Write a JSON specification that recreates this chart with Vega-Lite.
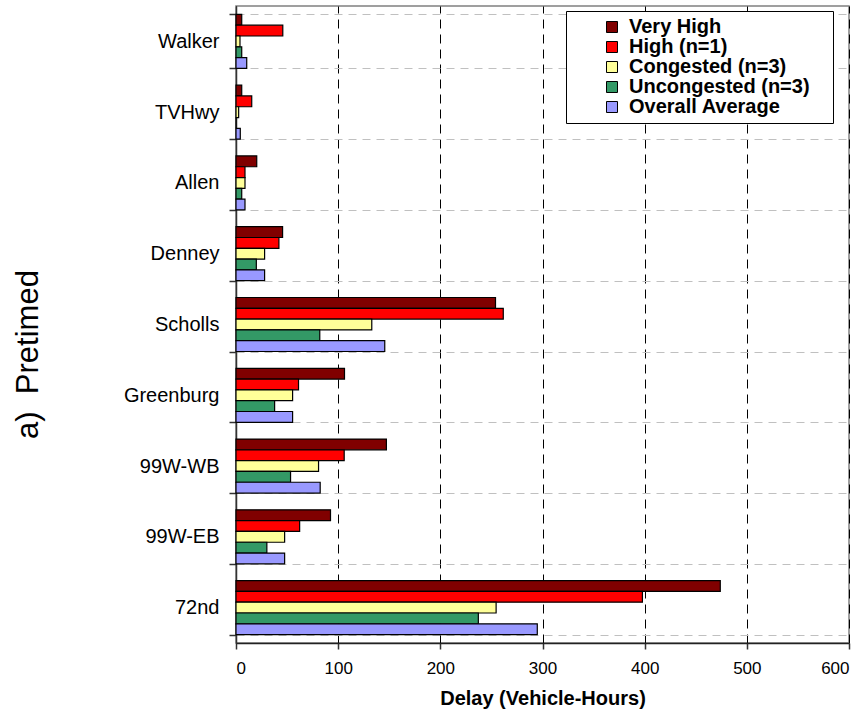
{
  "$schema": "https://vega.github.io/schema/vega-lite/v6.json",
  "width": 613,
  "height": 637,
  "autosize": {"type": "none"},
  "padding": {"left": 236, "top": 6, "right": 17, "bottom": 74},
  "background": "white",
  "config": {
    "font": "Liberation Sans",
    "view": {"stroke": "#808080", "strokeWidth": 1.5}
  },
  "data": {
    "values": [
      {"site": "Walker", "series": "Very High", "delay": 5.6},
      {"site": "Walker", "series": "High (n=1)", "delay": 45.8},
      {"site": "Walker", "series": "Congested (n=3)", "delay": 3.9},
      {"site": "Walker", "series": "Uncongested (n=3)", "delay": 5.6},
      {"site": "Walker", "series": "Overall Average", "delay": 10.5},
      {"site": "TVHwy", "series": "Very High", "delay": 5.6},
      {"site": "TVHwy", "series": "High (n=1)", "delay": 15.4},
      {"site": "TVHwy", "series": "Congested (n=3)", "delay": 2.6},
      {"site": "TVHwy", "series": "Uncongested (n=3)", "delay": 0},
      {"site": "TVHwy", "series": "Overall Average", "delay": 4.2},
      {"site": "Allen", "series": "Very High", "delay": 20.3},
      {"site": "Allen", "series": "High (n=1)", "delay": 8.8},
      {"site": "Allen", "series": "Congested (n=3)", "delay": 8.8},
      {"site": "Allen", "series": "Uncongested (n=3)", "delay": 5.6},
      {"site": "Allen", "series": "Overall Average", "delay": 8.8},
      {"site": "Denney", "series": "Very High", "delay": 45.6},
      {"site": "Denney", "series": "High (n=1)", "delay": 42},
      {"site": "Denney", "series": "Congested (n=3)", "delay": 28},
      {"site": "Denney", "series": "Uncongested (n=3)", "delay": 19.9},
      {"site": "Denney", "series": "Overall Average", "delay": 28},
      {"site": "Scholls", "series": "Very High", "delay": 254},
      {"site": "Scholls", "series": "High (n=1)", "delay": 261.6},
      {"site": "Scholls", "series": "Congested (n=3)", "delay": 132.9},
      {"site": "Scholls", "series": "Uncongested (n=3)", "delay": 82},
      {"site": "Scholls", "series": "Overall Average", "delay": 145.6},
      {"site": "Greenburg", "series": "Very High", "delay": 106.2},
      {"site": "Greenburg", "series": "High (n=1)", "delay": 61.2},
      {"site": "Greenburg", "series": "Congested (n=3)", "delay": 55.4},
      {"site": "Greenburg", "series": "Uncongested (n=3)", "delay": 37.8},
      {"site": "Greenburg", "series": "Overall Average", "delay": 55.4},
      {"site": "99W-WB", "series": "Very High", "delay": 147.2},
      {"site": "99W-WB", "series": "High (n=1)", "delay": 105.9},
      {"site": "99W-WB", "series": "Congested (n=3)", "delay": 80.8},
      {"site": "99W-WB", "series": "Uncongested (n=3)", "delay": 53.4},
      {"site": "99W-WB", "series": "Overall Average", "delay": 82.4},
      {"site": "99W-EB", "series": "Very High", "delay": 92.5},
      {"site": "99W-EB", "series": "High (n=1)", "delay": 62.3},
      {"site": "99W-EB", "series": "Congested (n=3)", "delay": 47.6},
      {"site": "99W-EB", "series": "Uncongested (n=3)", "delay": 30.2},
      {"site": "99W-EB", "series": "Overall Average", "delay": 47.6},
      {"site": "72nd", "series": "Very High", "delay": 474},
      {"site": "72nd", "series": "High (n=1)", "delay": 397.8},
      {"site": "72nd", "series": "Congested (n=3)", "delay": 254.6},
      {"site": "72nd", "series": "Uncongested (n=3)", "delay": 237.2},
      {"site": "72nd", "series": "Overall Average", "delay": 294.9}
    ]
  },
  "mark": {"type": "bar", "stroke": "black", "strokeWidth": 1.2},
  "encoding": {
    "y": {
      "field": "site",
      "type": "nominal",
      "sort": ["Walker", "TVHwy", "Allen", "Denney", "Scholls", "Greenburg", "99W-WB", "99W-EB", "72nd"],
      "scale": {"paddingInner": 0.237, "paddingOuter": 0.1185},
      "axis": {
        "title": "a)\u00a0\u00a0Pretimed",
        "titleFontSize": 31,
        "titleFontWeight": "normal",
        "titleColor": "black",
        "titleX": -199,
        "titleY": 348,
        "titleAngle": -90,
        "titleAlign": "center",
        "titleBaseline": "alphabetic",
        "tickBand": "extent",
        "grid": true,
        "gridColor": "#c0c0c0",
        "gridDash": [8, 6],
        "gridWidth": 1,
        "domainColor": "#333333",
        "domainWidth": 1.5,
        "tickColor": "#333333",
        "tickWidth": 1.5,
        "tickSize": 7,
        "labelFontSize": 20,
        "labelColor": "black",
        "labelPadding": 10
      }
    },
    "yOffset": {
      "field": "series",
      "type": "nominal",
      "sort": ["Very High", "High (n=1)", "Congested (n=3)", "Uncongested (n=3)", "Overall Average"],
      "scale": {"paddingInner": 0, "paddingOuter": 0}
    },
    "x": {
      "field": "delay",
      "type": "quantitative",
      "scale": {"domain": [0, 600], "nice": false},
      "axis": {
        "values": [0, 100, 200, 300, 400, 500, 600],
        "title": "Delay (Vehicle-Hours)",
        "titleFontSize": 20,
        "titleFontWeight": "bold",
        "titleColor": "black",
        "titlePadding": 12,
        "grid": true,
        "gridColor": "black",
        "gridDash": [9, 6],
        "gridWidth": 1,
        "domainColor": "#222222",
        "domainWidth": 1.5,
        "tickColor": "#333333",
        "tickWidth": 1.5,
        "tickSize": 6,
        "labelFontSize": 17,
        "labelColor": "black",
        "labelPadding": 11
      }
    },
    "color": {
      "field": "series",
      "type": "nominal",
      "sort": ["Very High", "High (n=1)", "Congested (n=3)", "Uncongested (n=3)", "Overall Average"],
      "scale": {
        "domain": ["Very High", "High (n=1)", "Congested (n=3)", "Uncongested (n=3)", "Overall Average"],
        "range": ["#800000", "#FF0000", "#FFFF99", "#339966", "#9999FF"]
      },
      "legend": {
        "orient": "none",
        "legendX": 330,
        "legendY": 5,
        "title": "\u00a0",
        "titleOrient": "right",
        "titlePadding": 17,
        "titleFontSize": 18,
        "strokeColor": "black",
        "fillColor": "white",
        "padding": 6,
        "symbolType": "square",
        "symbolSize": 121,
        "symbolStrokeColor": "black",
        "symbolStrokeWidth": 1,
        "symbolOpacity": 1,
        "symbolOffset": 30,
        "labelOffset": 7,
        "labelFontSize": 20,
        "labelFontWeight": "bold",
        "labelColor": "black",
        "labelLimit": 400,
        "rowPadding": -2
      }
    }
  }
}
